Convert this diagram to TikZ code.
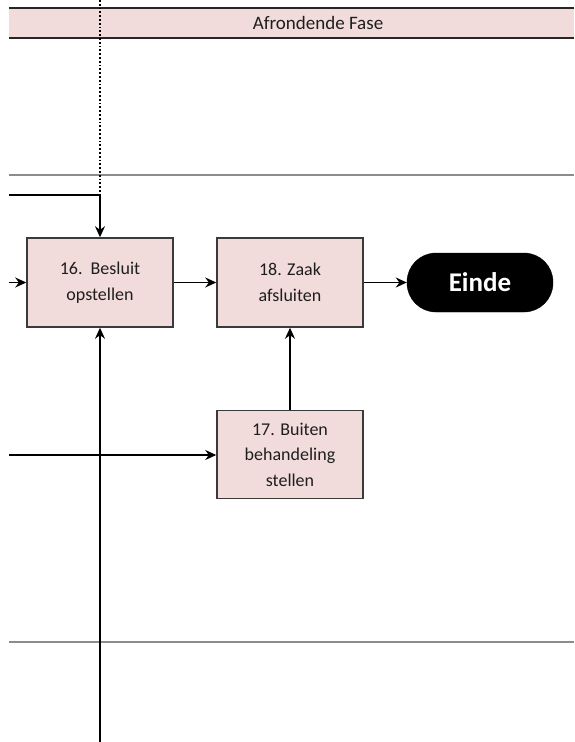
\documentclass[tikz,border=0pt]{standalone}
\usepackage{fontspec}
\setmainfont{Carlito}
\usetikzlibrary{arrows.meta,positioning}
\definecolor{lanepink}{HTML}{F2DCDB}
\definecolor{laneline}{HTML}{8C8C8C}
\definecolor{boxline}{HTML}{3A3A3A}
\definecolor{inktext}{HTML}{1E1E1E}
\tikzset{
  stepbox/.style={draw=boxline, line width=1.5pt, fill=lanepink, minimum width=146pt,
    minimum height=89pt, align=center, text=inktext,
    font=\fontsize{18}{25.5}\selectfont, inner sep=2pt},
  endpill/.style={draw=black, fill=black, rounded corners=29pt, minimum width=146pt,
    minimum height=59pt, text=white, font=\fontsize{27}{30}\selectfont\bfseries},
  flow/.style={line width=1.5pt, -{Stealth[length=11pt,width=10pt]}},
  lane/.style={draw=laneline, line width=1.6pt}
}
\begin{document}
\begin{tikzpicture}[x=1pt,y=-1pt]
  \useasboundingbox (0,0) rectangle (574,742);
  % phase header
  \fill[lanepink] (9,8) rectangle (574,38);
  \draw[line width=2pt, black!85] (9,8) -- (574,8);
  \draw[line width=2pt, black!85] (9,38) -- (574,38);
  \node[font=\fontsize{19}{22}\selectfont, text=inktext] (phase) at (318,23) {Afrondende Fase};
  % lane separators
  \draw[lane] (9,175) -- (574,175);
  \draw[lane] (9,642) -- (574,642);
  % process steps
  \node[stepbox] (s16) at (100,282.5) {16.\ \ Besluit\\opstellen};
  \node[stepbox] (s18) at (290,282.5) {18. Zaak\\afsluiten};
  \node[endpill] (einde) at (480,282.5) {Einde};
  \node[stepbox, minimum height=88pt] (s17) at (290,454.5) {17. Buiten\\behandeling\\stellen};
  % incoming ends
  \coordinate (dotTop) at (100,0);
  \coordinate (join) at (100,195);
  \coordinate (leftTop) at (9,195);
  \coordinate (left16) at (9,282.5);
  \coordinate (left17) at (9,455);
  \coordinate (bottom) at (100,742);
  % connectors
  \draw[line width=1.8pt, dotted] (dotTop) -- (join);
  \draw[line width=1.5pt] (leftTop) -- (join);
  \draw[flow] (join) -- (s16.north);
  \draw[flow] (left16) -- (s16.west);
  \draw[flow] (s16.east) -- (s18.west);
  \draw[flow] (s18.east) -- (einde.west);
  \draw[flow] (s17.north) -- (s18.south);
  \draw[flow] (left17) -- (s17.west |- left17);
  \draw[flow] (bottom) -- (s16.south);
\end{tikzpicture}
\end{document}
